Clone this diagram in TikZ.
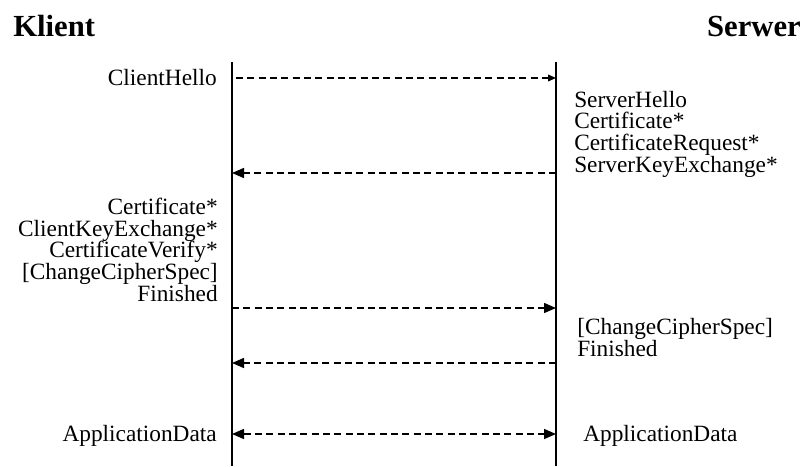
\documentclass[tikz,border=0pt]{standalone}
\usepackage{fontspec}
\setmainfont{Liberation Serif}
\usetikzlibrary{arrows.meta}
\tikzset{
  lifeline/.style={line width=0.95pt},
  msg/.style={line width=1.15pt, dash pattern=on 5.2pt off 3.3pt},
  tipsmall/.style={-{Triangle[length=6pt,width=5pt]}},
  tipbig/.style={-{Triangle[length=9pt,width=7.5pt]}},
  lbl/.style={inner sep=0pt, font=\fontsize{17.5}{16.2}\selectfont},
  title/.style={inner sep=0pt, font=\fontsize{23}{26}\selectfont\bfseries}
}
\begin{document}
\begin{tikzpicture}[x=0.75pt,y=-0.75pt]
\useasboundingbox (0,0) rectangle (807,467);

% participants
\node[title, anchor=base west] (klient) at (13,37) {Klient};
\node[title, anchor=base east] (serwer) at (801,37) {Serwer};

% lifelines
\coordinate (ctop) at (232,62);
\coordinate (cbot) at (232,466);
\coordinate (stop) at (556,62);
\coordinate (sbot) at (556,466);
\draw[lifeline] (ctop) -- (cbot);
\draw[lifeline] (stop) -- (sbot);

% message end points on the lifelines
\coordinate (c1) at (236,78);  \coordinate (s1) at (556,78);
\coordinate (c2) at (232,173); \coordinate (s2) at (556,173);
\coordinate (c3) at (232,308); \coordinate (s3) at (556,308);
\coordinate (c4) at (232,363); \coordinate (s4) at (556,363);
\coordinate (c5) at (232,434); \coordinate (s5) at (556,434);

% messages
\draw[msg, tipsmall] (c1) -- (s1);
\draw[msg, tipbig] (s2) -- (c2);
\draw[msg, tipbig] (c3) -- (s3);
\draw[msg, tipbig] (s4) -- (c4);
\draw[msg, {Triangle[length=9pt,width=7.5pt]}-{Triangle[length=9pt,width=7.5pt]}] (c5) -- (s5);

% labels (multi-line blocks are placed by the baseline of their last line)
\node[lbl, anchor=base east] (chello) at (217,85) {ClientHello};
\node[lbl, anchor=base west, align=left] (shello) at (574,172)
  {ServerHello\\Certificate*\\CertificateRequest*\\ServerKeyExchange*};
\node[lbl, anchor=base east, align=right] (ckex) at (218,301)
  {Certificate*\\ClientKeyExchange*\\CertificateVerify*\\{[ChangeCipherSpec]}\\Finished};
\node[lbl, anchor=base west, align=left] (sfin) at (577,356)
  {{[ChangeCipherSpec]}\\Finished};
\node[lbl, anchor=base east] (cdata) at (217,441) {ApplicationData};
\node[lbl, anchor=base west] (sdata) at (583,441) {ApplicationData};
\end{tikzpicture}
\end{document}
